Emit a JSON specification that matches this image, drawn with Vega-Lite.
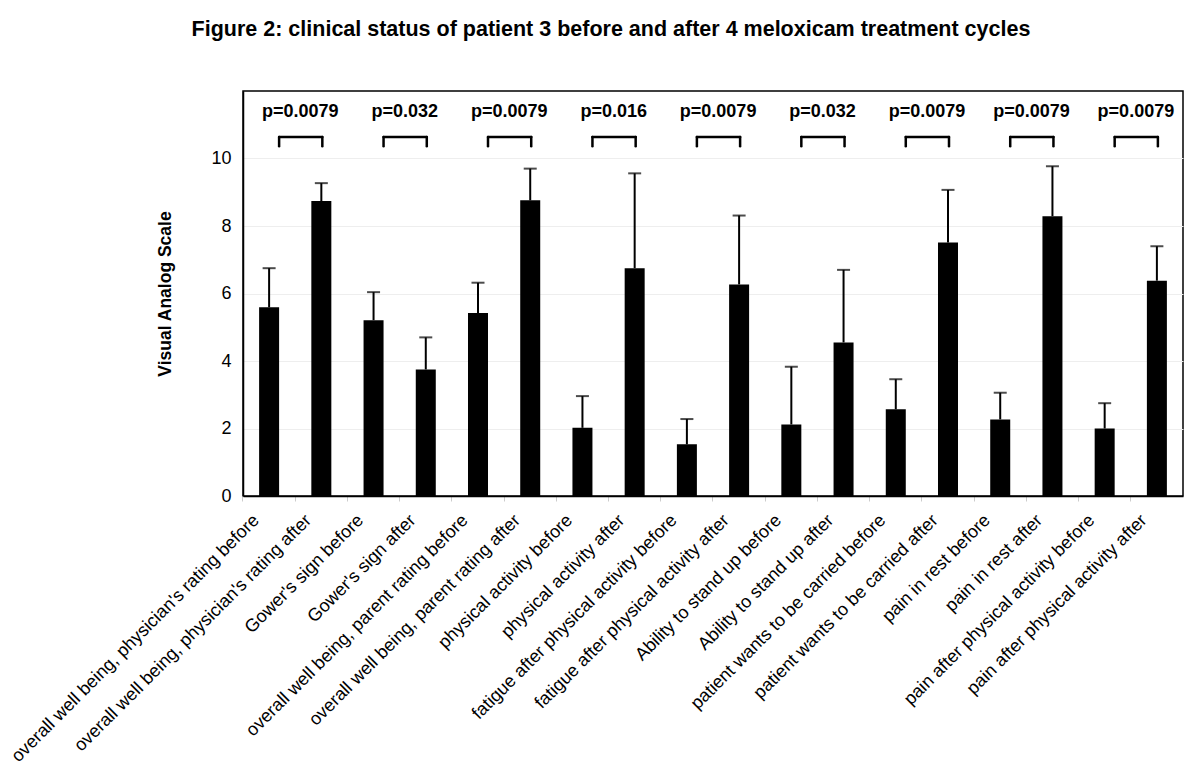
{
  "$schema": "https://vega.github.io/schema/vega-lite/v6.json",
  "width": 940,
  "height": 405,
  "autosize": "none",
  "padding": {"left": 243, "top": 91, "right": 17, "bottom": 286},
  "background": "white",
  "title": {
    "text": "Figure 2: clinical status of patient 3 before and after 4 meloxicam treatment cycles",
    "font": "Liberation Sans",
    "fontSize": 21.5,
    "fontWeight": "bold",
    "color": "black",
    "anchor": "middle",
    "frame": "group",
    "dx": -102,
    "offset": 51
  },
  "config": {
    "view": {"stroke": "black", "strokeWidth": 1.5},
    "font": "Liberation Sans"
  },
  "datasets": {
    "scores": [
      {"item": "overall well being, physician's rating before", "mean": 5.59, "upper": 6.75},
      {"item": "overall well being, physician's rating after", "mean": 8.74, "upper": 9.27},
      {"item": "Gower's sign  before", "mean": 5.21, "upper": 6.04},
      {"item": "Gower's sign after", "mean": 3.75, "upper": 4.70},
      {"item": "overall well being, parent rating before", "mean": 5.42, "upper": 6.32},
      {"item": "overall well being, parent rating after", "mean": 8.76, "upper": 9.70},
      {"item": "physical activity before", "mean": 2.02, "upper": 2.96},
      {"item": "physical activity after", "mean": 6.75, "upper": 9.56},
      {"item": "fatigue after physical activity before", "mean": 1.53, "upper": 2.28},
      {"item": "fatigue after physical activity after", "mean": 6.27, "upper": 8.31},
      {"item": "Ability to stand up before", "mean": 2.12, "upper": 3.83},
      {"item": "Ability to stand up after", "mean": 4.55, "upper": 6.70},
      {"item": "patient wants to be carried before", "mean": 2.57, "upper": 3.46},
      {"item": "patient wants to be carried after", "mean": 7.51, "upper": 9.07},
      {"item": "pain in rest before", "mean": 2.27, "upper": 3.06},
      {"item": "pain in rest after", "mean": 8.29, "upper": 9.77},
      {"item": "pain after physical activity before", "mean": 2.00, "upper": 2.75},
      {"item": "pain after physical activity after", "mean": 6.38, "upper": 7.40}
    ],
    "tests": [
      {"before": "overall well being, physician's rating before", "after": "overall well being, physician's rating after", "p": "p=0.0079"},
      {"before": "Gower's sign  before", "after": "Gower's sign after", "p": "p=0.032"},
      {"before": "overall well being, parent rating before", "after": "overall well being, parent rating after", "p": "p=0.0079"},
      {"before": "physical activity before", "after": "physical activity after", "p": "p=0.016"},
      {"before": "fatigue after physical activity before", "after": "fatigue after physical activity after", "p": "p=0.0079"},
      {"before": "Ability to stand up before", "after": "Ability to stand up after", "p": "p=0.032"},
      {"before": "patient wants to be carried before", "after": "patient wants to be carried after", "p": "p=0.0079"},
      {"before": "pain in rest before", "after": "pain in rest after", "p": "p=0.0079"},
      {"before": "pain after physical activity before", "after": "pain after physical activity after", "p": "p=0.0079"}
    ]
  },
  "layer": [
    {
      "data": {"name": "scores"},
      "mark": {"type": "bar", "color": "black"},
      "encoding": {
        "x": {
          "field": "item",
          "type": "nominal",
          "sort": null,
          "scale": {
            "domain": [
              "overall well being, physician's rating before",
              "overall well being, physician's rating after",
              "Gower's sign  before",
              "Gower's sign after",
              "overall well being, parent rating before",
              "overall well being, parent rating after",
              "physical activity before",
              "physical activity after",
              "fatigue after physical activity before",
              "fatigue after physical activity after",
              "Ability to stand up before",
              "Ability to stand up after",
              "patient wants to be carried before",
              "patient wants to be carried after",
              "pain in rest before",
              "pain in rest after",
              "pain after physical activity before",
              "pain after physical activity after"
            ],
            "paddingInner": 0.617,
            "paddingOuter": 0.3085
          },
          "axis": {
            "title": null,
            "labelAngle": -45,
            "labelFontSize": 18,
            "labelColor": "black",
            "labelLimit": 700,
            "labelPadding": 10,
            "bandPosition": -0.806,
            "labelOffset": -19,
            "ticks": true,
            "tickColor": "#cccccc",
            "tickSize": 5,
            "domainColor": "black",
            "domainWidth": 1.5,
            "grid": false
          }
        },
        "y": {
          "field": "mean",
          "type": "quantitative",
          "scale": {"domain": [0, 12], "nice": false},
          "axis": {
            "title": "Visual Analog Scale",
            "titleFontSize": 17.5,
            "titleFontWeight": "bold",
            "titleColor": "black",
            "titlePadding": 36,
            "values": [0, 2, 4, 6, 8, 10],
            "labelFontSize": 18,
            "labelColor": "black",
            "labelPadding": 12,
            "ticks": false,
            "grid": true,
            "gridColor": "#eeeeee",
            "domainColor": "black",
            "domainWidth": 1.5
          }
        }
      }
    },
    {
      "data": {"name": "scores"},
      "mark": {"type": "rule", "color": "black", "strokeWidth": 2},
      "encoding": {
        "x": {"field": "item", "type": "nominal", "sort": null},
        "y": {"field": "mean", "type": "quantitative"},
        "y2": {"field": "upper"}
      }
    },
    {
      "data": {"name": "scores"},
      "mark": {"type": "tick", "color": "black", "size": 13, "thickness": 2},
      "encoding": {
        "x": {"field": "item", "type": "nominal", "sort": null},
        "y": {"field": "upper", "type": "quantitative"}
      }
    },
    {
      "data": {"name": "tests"},
      "mark": {"type": "rule", "color": "black", "strokeWidth": 2.5, "strokeCap": "round", "xOffset": 10, "x2Offset": 1},
      "encoding": {
        "x": {"field": "before", "type": "nominal", "sort": null},
        "x2": {"field": "after"},
        "y": {"datum": 10.64, "type": "quantitative"}
      }
    },
    {
      "data": {"name": "tests"},
      "mark": {"type": "rule", "color": "black", "strokeWidth": 2.5, "strokeCap": "round", "xOffset": 10},
      "encoding": {
        "x": {"field": "before", "type": "nominal", "sort": null},
        "y": {"datum": 10.36, "type": "quantitative"},
        "y2": {"datum": 10.64}
      }
    },
    {
      "data": {"name": "tests"},
      "mark": {"type": "rule", "color": "black", "strokeWidth": 2.5, "strokeCap": "round", "xOffset": 1},
      "encoding": {
        "x": {"field": "after", "type": "nominal", "sort": null},
        "y": {"datum": 10.36, "type": "quantitative"},
        "y2": {"datum": 10.64}
      }
    },
    {
      "data": {"name": "tests"},
      "mark": {"type": "text", "color": "black", "fontSize": 18, "fontWeight": "bold", "xOffset": -21, "baseline": "middle"},
      "encoding": {
        "x": {"field": "after", "type": "nominal", "sort": null},
        "y": {"datum": 11.38, "type": "quantitative"},
        "text": {"field": "p"}
      }
    }
  ]
}
